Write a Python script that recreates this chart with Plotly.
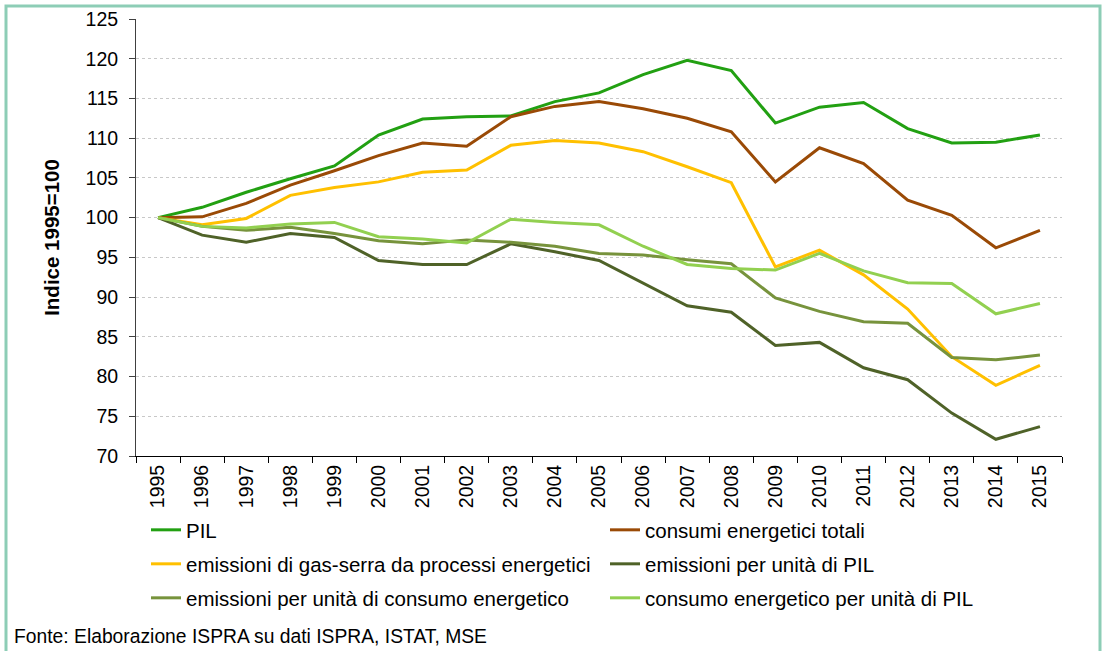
import plotly.graph_objects as go

years = [str(y) for y in range(1995, 2016)]
pil = [100, 101.3, 103.2, 104.9, 106.5, 110.4, 112.4, 112.7, 112.8, 114.6, 115.7,
       118.0, 119.8, 118.5, 111.9, 113.9, 114.5, 111.2, 109.4, 109.5, 110.4]
consumi = [100, 100.1, 101.8, 104.1, 105.9, 107.8, 109.4, 109.0, 112.7, 114.0, 114.6,
           113.7, 112.5, 110.8, 104.5, 108.8, 106.8, 102.2, 100.3, 96.2, 98.4]
gas_serra = [100, 99.1, 99.9, 102.8, 103.8, 104.5, 105.7, 106.0, 109.1, 109.7, 109.4,
             108.3, 106.4, 104.4, 93.8, 95.9, 92.8, 88.5, 82.5, 78.9, 81.4]
em_pil = [100, 97.8, 96.9, 98.0, 97.5, 94.6, 94.1, 94.1, 96.7, 95.7, 94.6,
          91.8, 88.9, 88.1, 83.9, 84.3, 81.1, 79.6, 75.4, 72.1, 73.7]
em_consumo = [100, 98.9, 98.4, 98.8, 98.0, 97.1, 96.7, 97.2, 96.9, 96.4, 95.5,
              95.3, 94.7, 94.2, 89.9, 88.2, 86.9, 86.7, 82.4, 82.1, 82.7]
consumo_pil = [100, 98.9, 98.7, 99.2, 99.4, 97.6, 97.3, 96.8, 99.8, 99.4, 99.1,
               96.4, 94.1, 93.6, 93.4, 95.5, 93.3, 91.8, 91.7, 87.9, 89.2]

series = [
    ("PIL", pil, "#22A012", "legend"),
    ("consumi energetici totali", consumi, "#9A4A06", "legend"),
    ("emissioni di gas-serra da processi energetici", gas_serra, "#FFC000", "legend2"),
    ("emissioni per unità di PIL", em_pil, "#4F6228", "legend2"),
    ("emissioni per unità di consumo energetico", em_consumo, "#77933C", "legend3"),
    ("consumo energetico per unità di PIL", consumo_pil, "#92D050", "legend3"),
]

FONT = "Liberation Sans, Arial, sans-serif"
W, H = 1105, 651
L, R, T, B = 136, 1062, 19, 456

fig = go.Figure()
for name, vals, color, leg in series:
    fig.add_trace(go.Scatter(x=years, y=vals, name=name, mode="lines",
                             line=dict(color=color, width=3), legend=leg))

def px_to_paper_x(px):
    return (px - L) / (R - L)

def px_to_paper_y(py):
    return (B - py) / (B - T)

leg_common = dict(orientation="h", entrywidth=414, entrywidthmode="pixels",
                  font=dict(family=FONT, size=20.5, color="black"),
                  bgcolor="rgba(0,0,0,0)", xanchor="left", yanchor="middle",
                  x=px_to_paper_x(146), itemwidth=30)

fig.update_layout(
    width=W, height=H,
    margin=dict(l=L, r=W - R, t=T, b=H - B, autoexpand=False),
    paper_bgcolor="white", plot_bgcolor="white",
    font=dict(family=FONT, size=19, color="black"),
    legend=dict(**leg_common, y=px_to_paper_y(530)),
    legend2=dict(**leg_common, y=px_to_paper_y(564)),
    legend3=dict(**leg_common, y=px_to_paper_y(598)),
    xaxis=dict(type="category", range=[-0.5, 20.5], tickson="boundaries",
               ticks="outside", ticklen=6, tickcolor="black", showline=True,
               linecolor="black", linewidth=1, tickangle=-90, showgrid=False,
               tickfont=dict(family=FONT, size=19.5, color="black"), automargin=False),
    yaxis=dict(range=[70, 125], dtick=5, tick0=70, ticks="outside", ticklen=6,
               tickcolor="#404040", showline=True, linecolor="#404040", linewidth=1,
               showgrid=True, gridcolor="#C8C8C8", griddash="dot", gridwidth=1,
               zeroline=False, ticklabelstandoff=7,
               tickfont=dict(family=FONT, size=19.5, color="black"),
               title=dict(text="<b>Indice 1995=100</b>", standoff=20,
                          font=dict(family=FONT, size=20.5, color="black")),
               automargin=False),
    shapes=[dict(type="rect", xref="paper", yref="paper",
                 x0=px_to_paper_x(6), x1=px_to_paper_x(1100),
                 y0=px_to_paper_y(660), y1=px_to_paper_y(6),
                 line=dict(color="#8DCDB6", width=3), fillcolor="rgba(0,0,0,0)",
                 layer="below")],
    annotations=[dict(text="Fonte: Elaborazione ISPRA su dati ISPRA, ISTAT, MSE",
                      xref="paper", yref="paper", x=px_to_paper_x(12),
                      y=px_to_paper_y(636), xanchor="left", yanchor="middle",
                      showarrow=False, font=dict(family=FONT, size=19.3, color="black"))],
)

fig.write_html("out.html", config={"displayModeBar": False},
               post_script="document.body.style.margin='0';document.body.style.overflow='hidden';")
